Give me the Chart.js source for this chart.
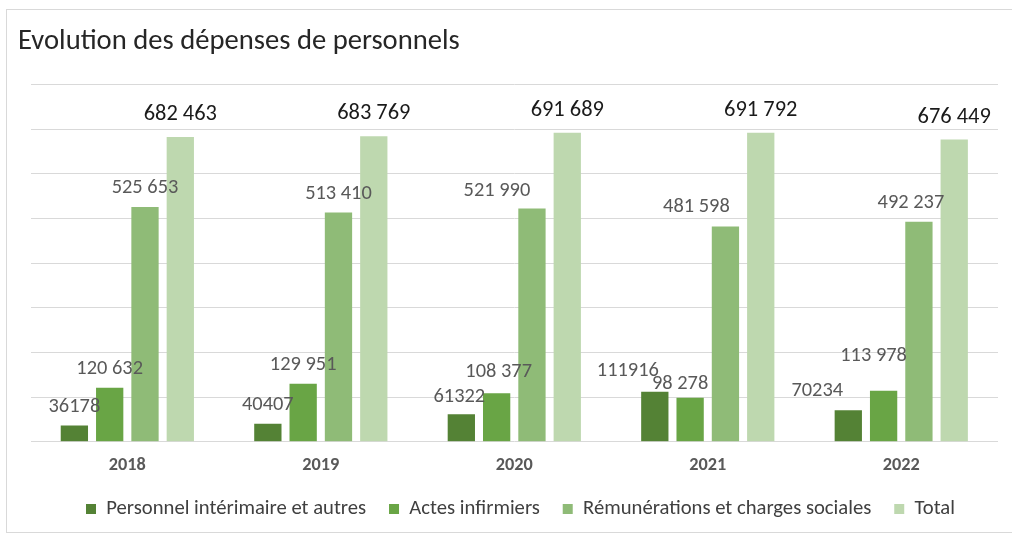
<!DOCTYPE html>
<html><head><meta charset="utf-8">
<script src="https://cdn.jsdelivr.net/npm/chart.js@4.4.1/dist/chart.umd.min.js"></script>
<style>
html,body{margin:0;padding:0;background:#fff;}
#wrap{position:relative;width:1012px;height:535px;overflow:hidden;background:#fff;}
#frame{position:absolute;left:6px;top:9px;width:1012px;height:524px;border:1px solid #d9d9d9;box-sizing:border-box;}
canvas{position:absolute;left:0;top:0;}
</style></head><body>
<div id="wrap"><div id="frame"></div><canvas id="c" width="1012" height="535"></canvas></div>
<script>
// ---- data ----
const years = ['2018', '2019', '2020', '2021', '2022'];
const seriesNames = ['Personnel intérimaire et autres', 'Actes infirmiers', 'Rémunérations et charges sociales', 'Total'];
const interim = [36178, 40407, 61322, 111916, 70234];
const actes = [120632, 129951, 108377, 98278, 113978];
const remun = [525653, 513410, 521990, 481598, 492237];
const total = [682463, 683769, 691689, 691792, 676449];
const yMax = 800000;
const yStep = 100000;
const titleText = 'Evolution des dépenses de personnels';

// ---- styling ----
const FONT = 'Carlito, Calibri, Lato, sans-serif';
const colors = ['#548235', '#69a545', '#8fbb77', '#bed8af'];
const grouped = [false, true, true, true];          // thousands separator in labels
// label nudges (dx, dy in px) for labels moved aside in the original
const labelNudge = {
  '0-2': [-2, 2], '0-3': [-27, -2], '0-4': [-31, 0],
  '1-2': [2, -2], '1-3': [-10, 5], '1-4': [-10, -16],
  '2-2': [-35, 1], '2-3': [-29, -1], '2-4': [-8, 0]
};

function fmt(v, g) {
  const s = String(v);
  return g ? s.replace(/\B(?=(\d{3})+(?!\d))/g, '\u00a0') : s;
}

// pick font sizes so text widths match the original (Calibri-like proportions)
const mctx = document.createElement('canvas').getContext('2d');
function textW(t, size, weight) { mctx.font = (weight || 'normal') + ' ' + size + 'px ' + FONT; return mctx.measureText(t).width; }
function fitSize(t, target, weight) { return 100 * target / textW(t, 100, weight); }

const titleSize = fitSize(titleText, 442);
const legendSize = fitSize(seriesNames[0], 260);
const xSize = fitSize('2018', 37, 'bold');
const valSize = fitSize(fmt(525653, true), 66.7);
const totSize = fitSize(fmt(682463, true), 73.3);

const CH_TOP = 84.4, CH_BOTTOM = 441.7;
const titlePadTop = 42 - titleSize * 0.6;
const titlePadBottom = CH_TOP - titlePadTop - titleSize * 1.2;

const textSum = seriesNames.reduce((a, t) => a + textW(t, legendSize), 0);
const legendGap = Math.max(4, (869 - 4 * 10 - 4 * legendSize / 2 - textSum) / 3);
const legendBottom = 509 + 10 + legendSize / 2;
const layoutBottom = 535 - legendBottom;
const legendHeight = legendSize + legendGap + 10;
const xAxisHeight = legendBottom - legendHeight - CH_BOTTOM;
const xPad = 465 - CH_BOTTOM - xSize * 0.6;
const LEGEND_CENTER = 520.5;

const valueLabels = {
  id: 'valueLabels',
  afterLayout(chart) {
    const lg = chart.legend;
    if (!lg) return;
    const shift = LEGEND_CENTER - (lg.left + lg.right) / 2;
    lg.left += shift; lg.right += shift;
  },
  afterDatasetsDraw(chart) {
    const ctx = chart.ctx;
    ctx.save();
    ctx.textAlign = 'center';
    ctx.textBaseline = 'middle';
    chart.data.datasets.forEach((ds, di) => {
      const meta = chart.getDatasetMeta(di);
      const isTotal = di === 3;
      ctx.font = (isTotal ? totSize : valSize) + 'px ' + FONT;
      ctx.fillStyle = isTotal ? '#1a1a1a' : '#595959';
      meta.data.forEach((bar, i) => {
        const n = labelNudge[di + '-' + i] || [0, 0];
        const off = isTotal ? 22.5 : 19;
        ctx.fillText(fmt(ds.data[i], grouped[di]), bar.x + n[0], bar.y - off + n[1]);
      });
    });
    ctx.restore();
  }
};

const datasets = [interim, actes, remun, total].map((d, i) => ({
  label: seriesNames[i],
  data: d,
  backgroundColor: colors[i],
  borderWidth: 0,
  categoryPercentage: 0.73,
  barPercentage: 0.773
}));

new Chart(document.getElementById('c'), {
  type: 'bar',
  data: { labels: years, datasets },
  options: {
    responsive: false,
    animation: false,
    layout: { padding: { left: 18, right: 14, top: 0, bottom: layoutBottom } },
    plugins: {
      tooltip: { enabled: false },
      title: {
        display: true,
        text: titleText,
        align: 'start',
        color: '#262626',
        font: { family: FONT, size: titleSize, weight: 'normal' },
        padding: { top: titlePadTop, bottom: titlePadBottom }
      },
      legend: {
        position: 'bottom',
        align: 'center',
        fullSize: false,
        labels: {
          boxWidth: 10, boxHeight: 10, padding: legendGap,
          color: '#404040',
          font: { family: FONT, size: legendSize }
        }
      }
    },
    scales: {
      x: {
        grid: { display: false, drawTicks: false },
        border: { display: false },
        ticks: { color: '#595959', padding: xPad, font: { family: FONT, size: xSize, weight: 'bold' } },
        afterFit: s => { s.height = xAxisHeight; }
      },
      y: {
        min: 0, max: yMax,
        ticks: { display: false, stepSize: yStep },
        grid: { color: '#d9d9d9', lineWidth: 1, drawTicks: false },
        border: { display: false },
        afterFit: s => { s.width = 12.6; }
      }
    }
  },
  plugins: [valueLabels]
});
</script>
</body></html>
